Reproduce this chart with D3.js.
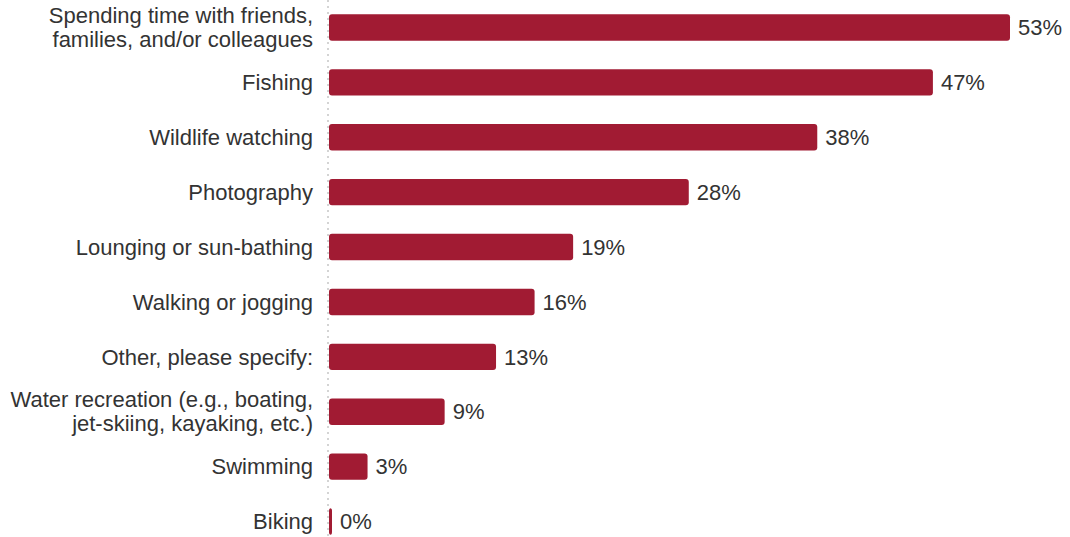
<!DOCTYPE html>
<html>
<head>
<meta charset="utf-8">
<script src="https://cdn.jsdelivr.net/npm/d3@7"></script>
<style>
  html, body { margin: 0; padding: 0; background: #fff; }
  svg { display: block; font-family: "Liberation Sans", Arial, Helvetica, sans-serif; }
</style>
</head>
<body>
<svg id="chart" width="1070" height="537"></svg>
<script>
// Activities (each label split into display lines) and their shares in percent
const categories = [
  ["Spending time with friends,", "families, and/or colleagues"],
  ["Fishing"],
  ["Wildlife watching"],
  ["Photography"],
  ["Lounging or sun-bathing"],
  ["Walking or jogging"],
  ["Other, please specify:"],
  ["Water recreation (e.g., boating,", "jet-skiing, kayaking, etc.)"],
  ["Swimming"],
  ["Biking"]
];
const values = [53, 47, 38, 28, 19, 16, 13, 9, 3, 0];

const svg = d3.select("#chart");
const W = 1070, H = 537;
const axisX = 329;
const fontSize = 22;

const y = d3.scaleBand()
  .domain(d3.range(categories.length))
  .range([0, 549])
  .paddingInner(0.52)
  .paddingOuter(0.26);

const x = d3.scaleLinear().domain([0, 53]).range([axisX, 1010]);

// dotted baseline
svg.append("line")
  .attr("x1", axisX - 1).attr("x2", axisX - 1)
  .attr("y1", 0).attr("y2", H)
  .attr("stroke", "#d4d4d4")
  .attr("stroke-width", 2)
  .attr("stroke-dasharray", "2,4");

const rows = svg.selectAll("g.row")
  .data(values.map((v, i) => ({ v, i, label: categories[i] })))
  .join("g")
  .attr("class", "row");

rows.append("rect")
  .attr("x", axisX)
  .attr("y", d => y(d.i))
  .attr("height", y.bandwidth())
  .attr("width", d => Math.max(x(d.v) - axisX, 3))
  .attr("rx", 3)
  .attr("fill", "#a11b33");

rows.append("text")
  .attr("x", d => Math.max(x(d.v), axisX + 3) + 8)
  .attr("y", d => y(d.i) + y.bandwidth() / 2)
  .attr("dy", "0.35em")
  .attr("font-size", fontSize)
  .attr("fill", "#333")
  .text(d => d.v + "%");

const lineH = 24;
rows.append("text")
  .attr("text-anchor", "end")
  .attr("font-size", fontSize)
  .attr("fill", "#333")
  .each(function (d) {
    const t = d3.select(this);
    const cy = y(d.i) + y.bandwidth() / 2;
    const n = d.label.length;
    d.label.forEach((line, k) => {
      t.append("tspan")
        .attr("x", 313)
        .attr("y", cy + (k - (n - 1) / 2) * lineH)
        .attr("dy", "0.35em")
        .text(line);
    });
  });
</script>
</body>
</html>
